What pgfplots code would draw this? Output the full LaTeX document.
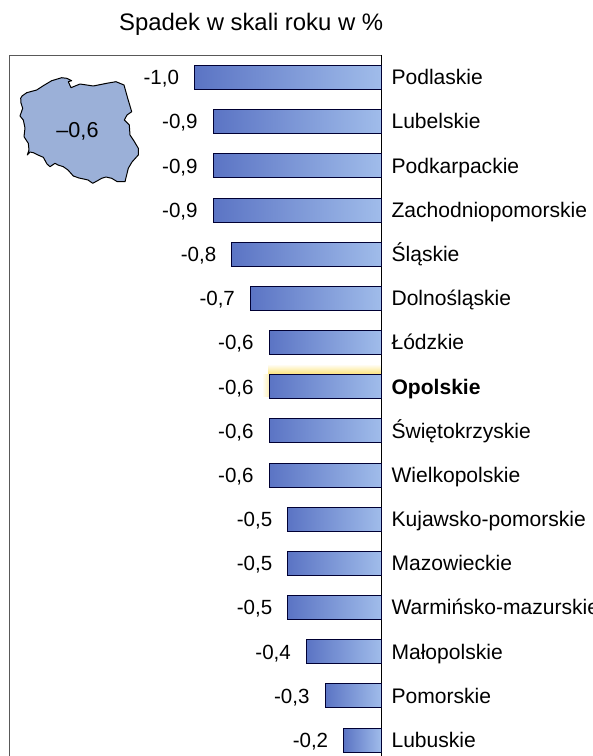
\documentclass[border=0pt]{standalone}
\usepackage{pgfplots}
\pgfplotsset{compat=1.18}
\usepackage{pgfplotstable}
\usepackage{fontspec}
\setmainfont{Liberation Sans}
\definecolor{barl}{HTML}{5B74C4}
\definecolor{barr}{HTML}{A0BCEA}
\definecolor{mapc}{HTML}{9BB0D8}
\definecolor{glow}{HTML}{FBDD60}
\begin{document}
\begin{tikzpicture}
\path[clip] (0,0) rectangle (444pt,567pt);
\begin{axis}[at={(0,0)},anchor=south west,
 scale only axis,width=444pt,height=567pt,
 xmin=0,xmax=592,ymin=0,ymax=756,y dir=reverse,
 hide axis,clip=false]
\addplot[draw=none,shade,bottom color=glow,top color=white] coordinates {(268,364) (381,364) (381,376) (268,376)} --cycle;
\addplot[draw=none,shade,left color=white,right color=glow!50!white] coordinates {(262,374) (270,374) (270,396) (262,396)} --cycle;
\addplot[draw=black!65,line width=0.75pt] coordinates {(9,760) (9,55.5) (381,55.5)};
\addplot[draw=black,fill=mapc,line width=0.75pt,line join=round] coordinates {
(20.7,98.3) (22,96) (26.7,92.7) (36.7,90) (43.3,85.7) (51.7,80.7) (61.7,77.7) (66.7,78.3) (71.7,80.7) (68.3,81.7) (71,87.7) (80,84) (93.3,86) (106.7,83.3) (116,81.7) (124,85) (127.7,98.3) (131.7,111.7) (127,115) (124.3,120) (129.3,125) (130,135) (134,141) (138.3,148.3) (138.3,155) (132,162) (128.3,168.3) (125,181.7) (117.3,181.7) (111.7,178.3) (106,177) (101.7,178.3) (97,181) (92.7,183.3) (88,180) (85,179.3) (79,178) (73.3,176) (68,170) (63.3,166.7) (58,165) (55,163.3) (50,166.7) (47,164) (43.3,157.3) (38,155) (33.3,152.7) (30,152) (27.3,155) (29,150) (28.3,143.3) (24,136.7) (25,128) (23.3,120) (20,116) (22.7,108.3) (21,103)
} --cycle;
\node[font=\fontsize{16.2}{18}\selectfont,anchor=base] at (axis cs:77.5,138) {–0,6};
\node[font=\fontsize{17.9}{20}\selectfont,anchor=base west] at (axis cs:114.5,31) {Spadek w skali roku w \%};
\end{axis}
\begin{axis}[at={(6.75pt,0)},anchor=south west,
 scale only axis,width=437.25pt,height=525.75pt,
 xmin=-1.995,xmax=1.131,ymin=-0.509,ymax=15.36,y dir=reverse,
 axis x line=none,
 axis y line=middle,
 y axis line style={draw=black,line width=0.75pt,-},
 clip=false,
 ytick={0,...,15},
 yticklabels={Podlaskie,Lubelskie,Podkarpackie,Zachodniopomorskie,Śląskie,Dolnośląskie,Łódzkie,\textbf{Opolskie},Świętokrzyskie,Wielkopolskie,Kujawsko-pomorskie,Mazowieckie,Warmińsko-mazurskie,Małopolskie,Pomorskie,Lubuskie},
 ytick style={draw=none},
 yticklabel pos=right,
 yticklabel style={anchor=west,xshift=8.6pt,text height=14.5pt,text depth=3.5pt,inner ysep=0pt,font=\fontsize{15.8}{18}\selectfont},
 xbar,
 cycle list={{draw=black!80!blue}},
 every axis plot/.append style={bar width=18pt,bar shift=0pt,line width=0.75pt,left color=barl,right color=barr},
 nodes near coords,
 point meta=explicit symbolic,
 every node near coord/.append style={anchor=east,xshift=-8pt,text=black,text height=14.5pt,text depth=3.5pt,inner ysep=0pt,font=\fontsize{15.4}{18}\selectfont},
]
\addplot coordinates {(-1.0,0) [-1{,}0]};
\addplot coordinates {(-0.9,1) [-0{,}9]};
\addplot coordinates {(-0.9,2) [-0{,}9]};
\addplot coordinates {(-0.9,3) [-0{,}9]};
\addplot coordinates {(-0.8,4) [-0{,}8]};
\addplot coordinates {(-0.7,5) [-0{,}7]};
\addplot coordinates {(-0.6,6) [-0{,}6]};
\addplot coordinates {(-0.6,7) [-0{,}6]};
\addplot coordinates {(-0.6,8) [-0{,}6]};
\addplot coordinates {(-0.6,9) [-0{,}6]};
\addplot coordinates {(-0.5,10) [-0{,}5]};
\addplot coordinates {(-0.5,11) [-0{,}5]};
\addplot coordinates {(-0.5,12) [-0{,}5]};
\addplot coordinates {(-0.4,13) [-0{,}4]};
\addplot coordinates {(-0.3,14) [-0{,}3]};
\addplot coordinates {(-0.2,15) [-0{,}2]};
\end{axis}
\end{tikzpicture}
\end{document}
